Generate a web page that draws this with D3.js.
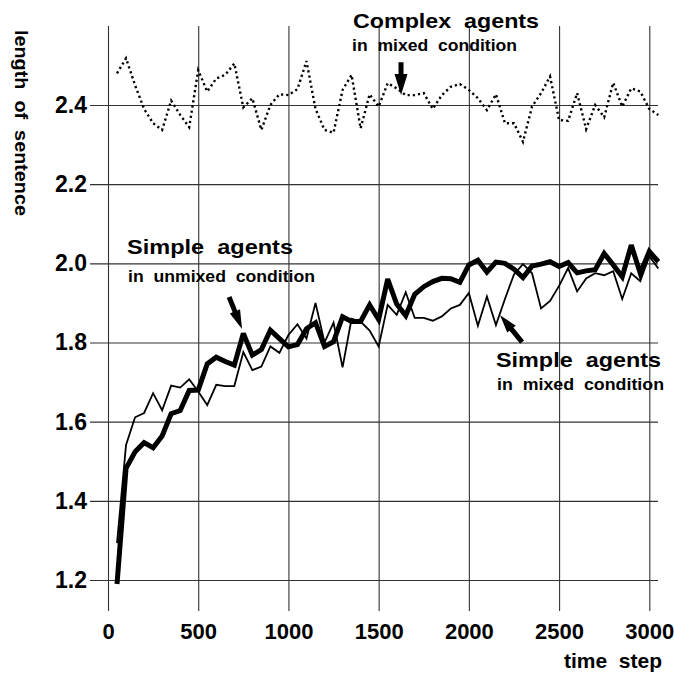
<!DOCTYPE html>
<html>
<head>
<meta charset="utf-8">
<script src="https://cdn.jsdelivr.net/npm/d3@7"></script>
<style>
  body { margin: 0; background: #fff; }
  svg { display: block; }
</style>
</head>
<body>
<svg id="chart" width="674" height="680"></svg>
<script>
// ---- data ----
const steps = [50,100,150,200,250,300,350,400,450,500,550,600,650,700,750,800,850,900,950,1000,
  1050,1100,1150,1200,1250,1300,1350,1400,1450,1500,1550,1600,1650,1700,1750,1800,1850,1900,1950,2000,
  2050,2100,2150,2200,2250,2300,2350,2400,2450,2500,2550,2600,2650,2700,2750,2800,2850,2900,2950,3000,3050];

const complexMixed = [2.48,2.518,2.45,2.39,2.354,2.337,2.411,2.375,2.344,2.488,2.434,2.467,2.476,2.505,2.394,2.417,2.337,2.40,2.427,2.425,
  2.44,2.511,2.39,2.337,2.33,2.438,2.476,2.341,2.427,2.396,2.455,2.442,2.425,2.425,2.43,2.39,2.425,2.446,2.453,2.438,
  2.417,2.387,2.427,2.354,2.354,2.307,2.396,2.43,2.472,2.362,2.36,2.43,2.339,2.40,2.369,2.456,2.396,2.442,2.434,2.39,2.375];

const simpleUnmixed = [1.19,1.482,1.524,1.547,1.534,1.564,1.62,1.628,1.679,1.68,1.746,1.763,1.752,1.743,1.823,1.768,1.782,1.831,1.81,1.789,
  1.795,1.835,1.85,1.79,1.802,1.865,1.853,1.853,1.895,1.858,1.96,1.897,1.868,1.922,1.941,1.954,1.962,1.961,1.952,1.996,
  2.008,1.978,2.003,2.0,1.985,1.964,1.993,1.998,2.004,1.992,2.002,1.976,1.981,1.984,2.025,1.996,1.966,2.046,1.975,2.03,2.004];

const simpleMixed = [1.293,1.541,1.611,1.622,1.672,1.629,1.691,1.686,1.707,1.676,1.642,1.693,1.69,1.69,1.776,1.73,1.739,1.79,1.774,1.819,
  1.846,1.81,1.90,1.80,1.85,1.737,1.86,1.853,1.83,1.79,1.895,1.87,1.927,1.862,1.862,1.855,1.866,1.886,1.895,1.925,
  1.842,1.916,1.844,1.91,1.972,1.998,1.975,1.886,1.905,1.943,1.988,1.929,1.962,1.975,1.97,1.98,1.91,1.975,1.955,2.018,1.987];

const xTicks = [0,500,1000,1500,2000,2500,3000];
const yTicks = [1.2,1.4,1.6,1.8,2.0,2.2,2.4];

const xTitle = "time  step";
const yTitle = "length  of  sentence";
const annoTitles = ["Complex  agents", "Simple  agents", "Simple  agents"];
const annoSubs = ["in  mixed  condition", "in  unmixed  condition", "in  mixed  condition"];
// arrows in data units: [tailStep, tailValue, tipStep, tipValue]
const arrowsData = [
  [1624, 2.508, 1624, 2.425],
  [671, 1.915, 743, 1.834],
  [2295, 1.801, 2173, 1.869]
];

// ---- chart ----
const FONT = '"Liberation Sans", Arial, Helvetica, sans-serif';
const svg = d3.select("#chart");
const x = d3.scaleLinear().domain([0, 3000]).range([108, 649.3]);
const y = d3.scaleLinear().domain([1.2, 2.4]).range([580, 105]);
const gridTop = 26, gridBottom = 611, gridLeft = 90, gridRight = 658;

function boldText(sel, size) {
  return sel.style("font-family", FONT).style("font-weight", "700").style("font-size", size + "px")
    .style("white-space", "pre").attr("fill", "#000");
}

// vertical grid + x tick labels
const xAxis = d3.axisBottom(x).tickValues(xTicks).tickSizeInner(-(gridBottom - gridTop)).tickSizeOuter(0).tickPadding(12).tickFormat(d3.format("d"));
const gx = svg.append("g").attr("transform", `translate(0,${gridBottom})`).call(xAxis);
gx.select(".domain").remove();
gx.selectAll("line").attr("stroke", "#333").attr("stroke-width", 1.1);
boldText(gx.selectAll("text"), 22);

// horizontal grid + y tick labels
const yAxis = d3.axisLeft(y).tickValues(yTicks).tickSizeInner(-(gridRight - gridLeft)).tickSizeOuter(0).tickPadding(3).tickFormat(d3.format(".1f"));
const gy = svg.append("g").attr("transform", `translate(${gridLeft},0)`).call(yAxis);
gy.select(".domain").remove();
gy.selectAll("line").attr("stroke", "#333").attr("stroke-width", 1.1);
boldText(gy.selectAll("text"), 23);

// lines
const line = d3.line().x((d, i) => x(steps[i])).y(d => y(d));
svg.append("path").datum(complexMixed).attr("d", line)
  .attr("fill", "none").attr("stroke", "#000").attr("stroke-width", 2.4).attr("stroke-dasharray", "2.2,3");
svg.append("path").datum(simpleMixed).attr("d", line)
  .attr("fill", "none").attr("stroke", "#000").attr("stroke-width", 1.8).attr("stroke-linejoin", "miter");
svg.append("path").datum(simpleUnmixed).attr("d", line)
  .attr("fill", "none").attr("stroke", "#000").attr("stroke-width", 5).attr("stroke-linejoin", "miter").attr("stroke-miterlimit", 3);

// axis titles
boldText(svg.append("text").text(xTitle), 21).attr("x", 662).attr("y", 668).attr("text-anchor", "end");
boldText(svg.append("text").text(yTitle), 19).attr("transform", "translate(15,30) rotate(90)")
  .attr("textLength", 186).attr("lengthAdjust", "spacingAndGlyphs");

// annotations
const titlePos = [[353, 28, 186], [127, 254, 166], [496, 367, 165]];
const subPos = [[352, 51, 165], [128, 282, 187], [497, 390, 167]];
annoTitles.forEach((t, i) => {
  boldText(svg.append("text").text(t), 21).attr("x", titlePos[i][0]).attr("y", titlePos[i][1])
    .attr("textLength", titlePos[i][2]).attr("lengthAdjust", "spacingAndGlyphs");
});
annoSubs.forEach((t, i) => {
  boldText(svg.append("text").text(t), 17).attr("x", subPos[i][0]).attr("y", subPos[i][1])
    .attr("textLength", subPos[i][2]).attr("lengthAdjust", "spacingAndGlyphs");
});

function arrowPoly(x1, y1, x2, y2, shaft, headLen, headW) {
  const dx = x2 - x1, dy = y2 - y1, L = Math.hypot(dx, dy);
  const ux = dx / L, uy = dy / L, px = -uy, py = ux;
  const bx = x2 - ux * headLen, by = y2 - uy * headLen;
  const s = shaft / 2, h = headW / 2;
  return [
    [x1 + px * s, y1 + py * s], [bx + px * s, by + py * s], [bx + px * h, by + py * h], [x2, y2],
    [bx - px * h, by - py * h], [bx - px * s, by - py * s], [x1 - px * s, y1 - py * s]
  ];
}
const arrowStyle = [[5, 21, 13], [5, 19, 11], [5, 18, 11]];
arrowsData.forEach((a, i) => {
  const pts = arrowPoly(x(a[0]), y(a[1]), x(a[2]), y(a[3]), ...arrowStyle[i]);
  svg.append("polygon").attr("points", pts.map(p => p.join(",")).join(" ")).attr("fill", "#000");
});
</script>
</body>
</html>
